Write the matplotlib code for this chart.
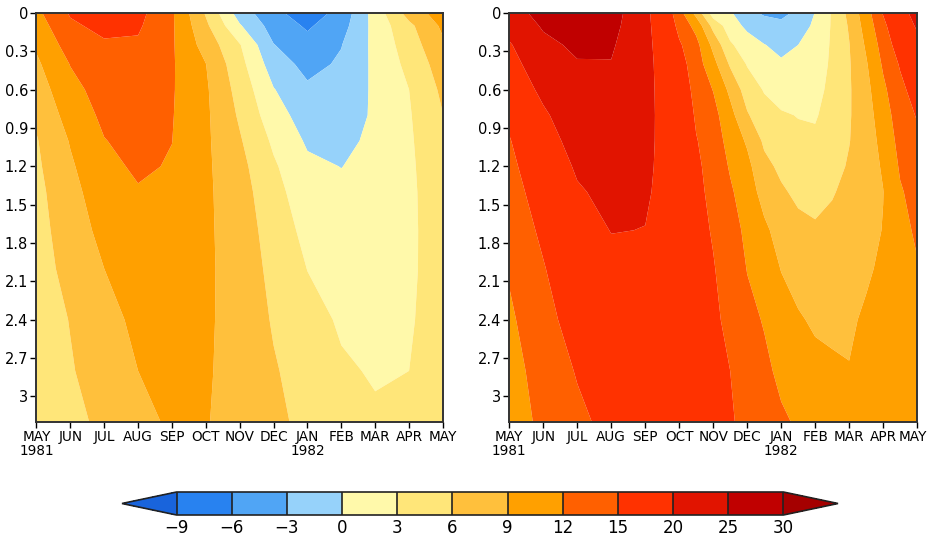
import numpy as np
import matplotlib
matplotlib.use("Agg")
import matplotlib.pyplot as plt
import matplotlib.transforms as mtransforms
from matplotlib.colors import ListedColormap, BoundaryNorm

plt.rcParams['font.family'] = ['Liberation Sans Narrow', 'DejaVu Sans']

# time axis: months since May 1981
months_l = [0, 1, 2, 3, 4, 5, 6, 7, 8, 9, 10, 11, 12]
months_r = [0, 1, 2, 3, 4, 4.5, 5, 5.5, 6, 6.5, 7, 7.5, 8, 8.5, 9, 9.5, 10, 10.5, 11, 11.5, 12]
depth = [0, 0.1, 0.25, 0.4, 0.6, 0.8, 1.0, 1.2, 1.4, 1.7, 2.0, 2.4, 2.8, 3.2]

month_labels = ['MAY\n1981', 'JUN', 'JUL', 'AUG', 'SEP', 'OCT', 'NOV', 'DEC',
                'JAN\n1982', 'FEB', 'MAR', 'APR', 'MAY']
depth_ticks = [0, 0.3, 0.6, 0.9, 1.2, 1.5, 1.8, 2.1, 2.4, 2.7, 3]
depth_labels = ['0', '0.3', '0.6', '0.9', '1.2', '1.5', '1.8', '2.1', '2.4', '2.7', '3']

levels = [-9, -6, -3, 0, 3, 6, 9, 12, 15, 20, 25, 30]
colors = ['#2882f0', '#50a5f5', '#96d2fa', '#fff9aa', '#ffe679', '#ffc03c',
          '#ffa000', '#ff6000', '#ff3200', '#e11400', '#c00000']
color_under = '#1964dc'
color_over = '#a50000'

# left panel, one profile (top -> bottom) per month
left_cols = [
    [11.3, 10.5, 9.4, 8.5, 7.5, 6.5, 5.8, 5.5, 5.2, 5.0, 4.8, 4.6, 4.4, 4.2],
    [15.3, 14.5, 13.3, 12.1, 11.1, 10.2, 9.2, 8.6, 8.0, 7.4, 6.9, 6.1, 5.8, 5.5],
    [16.5, 15.8, 14.6, 13.9, 13.2, 12.6, 11.9, 11.3, 10.8, 9.9, 9.0, 8.1, 7.2, 6.4],
    [15.9, 15.4, 14.6, 14.2, 13.7, 13.3, 12.9, 12.4, 11.8, 11.0, 10.3, 9.6, 9.0, 8.4],
    [12.4, 12.4, 12.35, 12.3, 12.25, 12.15, 12.03, 11.8, 11.5, 11.0, 10.5, 10.0, 9.6, 9.3],
    [5.7, 6.6, 7.8, 9.05, 9.4, 9.5, 9.5, 9.5, 9.5, 9.45, 9.4, 9.3, 9.2, 9.1],
    [-1.4, 0.3, 3.2, 4.0, 4.9, 5.6, 6.3, 6.9, 7.3, 7.7, 8.0, 8.2, 8.3, 8.3],
    [-5.2, -4.3, -2.9, -1.5, 0.15, 1.3, 2.5, 3.4, 4.0, 4.6, 5.1, 5.7, 6.3, 6.8],
    [-7.6, -6.4, -5.0, -3.9, -2.5, -1.4, -0.4, 0.6, 1.3, 2.2, 2.95, 3.9, 4.6, 5.1],
    [-5.0, -4.2, -3.1, -2.6, -2.0, -1.4, -0.7, -0.05, 0.6, 1.5, 2.1, 2.7, 3.3, 3.8],
    [1.3, 1.05, 0.8, 0.65, 0.5, 0.4, 0.6, 0.9, 1.2, 1.6, 2.0, 2.4, 2.8, 3.3],
    [7.2, 5.3, 4.5, 3.8, 3.0, 2.75, 2.6, 2.5, 2.45, 2.45, 2.5, 2.7, 3.0, 3.4],
    [10.6, 9.6, 8.5, 7.5, 6.6, 5.95, 5.4, 5.0, 4.7, 4.5, 4.4, 4.4, 4.3, 4.2],
]

# right panel, one profile per half month
right_cols = [
    [23.0, 21.6, 19.6, 18.5, 17.2, 15.7, 14.8, 14.2, 13.7, 13.0, 12.3, 11.5, 10.8, 10.2],
    [26.6, 25.5, 23.9, 22.5, 20.9, 19.4, 18.3, 17.3, 16.5, 15.6, 14.8, 14.0, 13.3, 12.8],
    [27.6, 27.0, 25.8, 24.7, 23.5, 22.5, 21.5, 20.5, 19.6, 18.4, 17.4, 16.3, 15.2, 14.4],
    [27.2, 26.6, 25.6, 24.8, 23.8, 23.0, 22.3, 21.6, 21.0, 20.1, 19.0, 17.8, 16.6, 15.8],
    [20.9, 20.9, 20.9, 20.9, 20.85, 20.8, 20.7, 20.55, 20.35, 19.95, 19.3, 18.4, 17.6, 17.0],
    [17.8, 18.3, 18.8, 19.1, 19.3, 19.4, 19.45, 19.45, 19.4, 19.1, 18.6, 17.9, 17.3, 16.9],
    [13.2, 14.1, 15.4, 16.3, 17.1, 17.6, 17.9, 18.0, 18.0, 17.9, 17.6, 17.2, 16.8, 16.5],
    [8.0, 11.0, 12.9, 13.4, 14.0, 14.6, 15.15, 15.5, 15.7, 15.8, 15.8, 15.7, 15.5, 15.3],
    [1.5, 5.0, 8.2, 10.0, 11.9, 13.0, 13.6, 14.0, 14.3, 14.8, 15.15, 15.4, 15.55, 15.6],
    [0.4, 1.5, 3.4, 5.6, 8.3, 10.0, 10.9, 11.7, 12.4, 13.3, 13.9, 14.5, 15.0, 15.3],
    [-2.4, -0.7, 1.5, 2.8, 4.6, 6.3, 8.6, 9.8, 10.5, 11.3, 11.9, 12.8, 13.6, 14.2],
    [-3.3, -2.0, 0.1, 1.2, 2.8, 4.1, 5.5, 6.8, 7.9, 9.6, 10.6, 11.8, 12.6, 13.1],
    [-3.6, -2.4, -0.8, 0.4, 1.8, 3.3, 4.3, 5.4, 6.4, 7.8, 8.9, 10.3, 11.4, 12.4],
    [-2.5, -1.5, 0.0, 0.9, 2.0, 2.9, 3.6, 4.4, 5.4, 6.8, 7.9, 9.3, 10.8, 11.7],
    [0.1, 0.6, 1.3, 1.8, 2.3, 2.8, 3.4, 4.2, 5.0, 6.4, 7.3, 8.6, 9.8, 10.9],
    [3.3, 3.3, 3.35, 3.4, 3.6, 3.9, 4.3, 5.0, 5.75, 6.9, 7.8, 8.6, 9.3, 9.9],
    [6.8, 6.3, 5.9, 5.75, 5.7, 5.75, 5.9, 6.3, 6.9, 7.6, 8.1, 8.6, 9.1, 9.6],
    [10.7, 10.2, 9.4, 8.7, 8.1, 7.8, 7.7, 7.7, 7.8, 8.1, 8.6, 9.4, 9.9, 10.3],
    [15.2, 14.2, 13.2, 12.4, 11.4, 10.5, 9.8, 9.3, 8.95, 9.1, 9.5, 10.0, 10.5, 10.8],
    [18.5, 17.9, 16.6, 15.3, 14.2, 13.6, 13.0, 12.35, 11.7, 11.2, 10.9, 10.8, 10.9, 11.0],
    [21.5, 20.4, 19.0, 17.8, 16.4, 15.2, 14.4, 13.7, 13.1, 12.4, 11.8, 11.3, 10.9, 10.6],
]

cmap = ListedColormap(colors)
cmap.set_under(color_under)
cmap.set_over(color_over)
norm = BoundaryNorm(levels, cmap.N)


def draw_panel(ax, months, cols):
    z = np.array(cols).T
    cs = ax.contourf(months, depth, z, levels=levels, cmap=cmap, norm=norm,
                     extend='both', antialiased=True)
    ax.set_xlim(0, 12)
    ax.set_ylim(3.2, 0)
    ax.set_xticks(range(13))
    ax.set_xticklabels(month_labels, fontsize=9.8, linespacing=0.95)
    ax.set_yticks(depth_ticks)
    ax.set_yticklabels(depth_labels, fontsize=10.5)
    ax.tick_params(direction='out', length=4, width=1, pad=2)
    for s in ax.spines.values():
        s.set_linewidth(1.4)
        s.set_color('#333333')
    return cs


fig = plt.figure(figsize=(9.28, 5.41), dpi=100)
ax1 = fig.add_axes([0.0393, 0.22, 0.438, 0.756])
ax2 = fig.add_axes([0.5488, 0.22, 0.4395, 0.756])

cs = draw_panel(ax1, months_l, left_cols)
draw_panel(ax2, months_r, right_cols)

# last month label sits at the figure edge, pull it in a little
last = ax2.get_xticklabels()[-1]
last.set_transform(last.get_transform() +
                   mtransforms.ScaledTranslation(-4 / 100, 0, fig.dpi_scale_trans))

cax = fig.add_axes([122 / 928, 26 / 541, 716 / 928, 23 / 541])
cb = fig.colorbar(cs, cax=cax, orientation='horizontal', ticks=levels,
                  extendfrac=0.09, drawedges=True)
cb.ax.tick_params(length=0, labelsize=12, pad=3)
cb.dividers.set_color('#222222')
cb.dividers.set_linewidth(1.2)
cb.outline.set_linewidth(1.2)
cb.outline.set_edgecolor('#222222')

fig.savefig('out.png', dpi=100)
